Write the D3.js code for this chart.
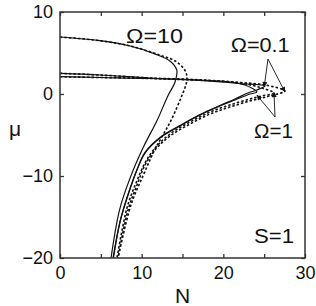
<!DOCTYPE html>
<html>
<head>
<meta charset="utf-8">
<script src="https://cdn.jsdelivr.net/npm/d3@7"></script>
<style>
  body { margin: 0; background: #fff; }
  text { font-family: "Liberation Sans", Arial, sans-serif; fill: #111; }
</style>
</head>
<body>
<div id="chart"></div>
<script>
// curves, [N, mu]
const omega10Solid = [[0, 6.95], [4.9, 6.5], [8.6, 5.85], [11.6, 4.9], [13.5, 4.0], [14.3, 2.9], [14.1, 1.5],
    [13.2, -0.25], [11.9, -3.2], [10.2, -6.5], [8.6, -10.2], [7.3, -14.1], [6.25, -20]];
const omega10Dotted = [[0, 6.95], [4.9, 6.5], [8.6, 5.85], [12.2, 4.75], [14.3, 3.9], [15.4, 2.7], [15.5, 1.5],
    [14.9, -0.25], [13.5, -3.4], [11.6, -6.8], [10.2, -9.9], [8.7, -13.5], [7.1, -20]];
const omega1Solid = [[0, 2.52], [4.9, 2.32], [11.0, 1.95], [17.1, 1.71], [20.8, 1.46], [22.65, 1.1], [24.1, 0.24],
    [23.26, 0], [21.43, -0.73], [19.59, -1.46], [17.14, -2.56], [14.69, -3.9], [12.24, -5.37], [10.41, -7.2],
    [9.43, -9.27], [8.33, -12.32], [7.35, -15.61], [6.49, -20]];
const omega01Solid = [[0, 2.11], [4.9, 2.01], [11.0, 1.89], [17.1, 1.65], [22.0, 1.28], [25.1, 0.98],
    [24.1, 0.49], [23.0, 0.12], [21.43, -0.61], [19.59, -1.4], [17.14, -2.5], [14.69, -3.84], [12.24, -5.3],
    [10.41, -7.13], [9.43, -9.2], [8.33, -12.26], [7.35, -15.55], [6.55, -20]];
const omega01Dotted = [[0, 2.11], [4.9, 2.01], [11.0, 1.89], [17.1, 1.68], [22.0, 1.4], [25.1, 1.1], [27.55, 0.37],
    [25.7, -0.24], [23.26, -0.85], [20.8, -1.59], [18.37, -2.44], [15.92, -3.66], [13.47, -5.12], [11.63, -6.83],
    [10.41, -8.66], [9.43, -11.1], [8.33, -14.15], [7.1, -20]];
const omega1Dotted = [[0, 2.52], [4.9, 2.32], [11.0, 1.95], [17.1, 1.73], [22.0, 1.35], [24.7, 0.73], [26.2, 0.12],
    [24.7, -0.24], [23.26, -0.61], [20.8, -1.34], [18.37, -2.2], [15.92, -3.41], [13.47, -4.88], [11.63, -6.59],
    [10.41, -8.41], [9.31, -10.85], [8.2, -13.9], [6.98, -20]];

const xTicks = [0, 10, 20, 30];
const xMinorTicks = [5, 15, 25];
const yTicks = [-20, -10, 0, 10];

// labels and arrows, in data units
const labels = [
    { text: 'Ω=10', n: 8.08, mu: 6.2, len: 57 },
    { text: 'Ω=0.1', n: 20.9, mu: 5.1, len: 59 },
    { text: 'Ω=1', n: 23.75, mu: -5.37, len: 39 },
    { text: 'S=1', n: 23.75, mu: -18.2, len: 40 }
];
const arrows = [
    { from: [25.47, 4.27], to: [25.0, 0.85] },
    { from: [25.47, 4.27], to: [27.55, 0.24] },
    { from: [26.33, -2.8], to: [24.1, -0.12] },
    { from: [26.33, -2.8], to: [26.2, 0.24] }
];

const width = 316, height = 306;
const margin = { top: 12, right: 11, bottom: 48, left: 60 };

const svg = d3.select('#chart').append('svg')
    .attr('width', width)
    .attr('height', height);

const x = d3.scaleLinear().domain([0, 30]).range([margin.left, width - margin.right]);
const y = d3.scaleLinear().domain([-20, 10]).range([height - margin.bottom, margin.top]);

svg.append('clipPath').attr('id', 'plot-clip')
    .append('rect')
    .attr('x', x(0)).attr('y', y(10))
    .attr('width', x(30) - x(0)).attr('height', y(-20) - y(10));

const line = d3.line()
    .x(d => x(d[0]))
    .y(d => y(d[1]))
    .curve(d3.curveCatmullRom.alpha(0.5));

const curves = svg.append('g').attr('clip-path', 'url(#plot-clip)');

function drawCurve(data, dotted) {
    curves.append('path')
        .datum(data)
        .attr('d', line)
        .attr('fill', 'none')
        .attr('stroke', '#111')
        .attr('stroke-width', dotted ? 1.6 : 1.2)
        .attr('stroke-dasharray', dotted ? '2.5,2' : null);
}

drawCurve(omega10Solid, false);
drawCurve(omega10Dotted, true);
drawCurve(omega1Solid, false);
drawCurve(omega01Solid, false);
drawCurve(omega01Dotted, true);
drawCurve(omega1Dotted, true);

// axes, ticks pointing inward on all four sides
const axisStyle = g => {
    g.select('.domain').remove();
    g.selectAll('line').attr('stroke', '#333').attr('stroke-width', 1.3);
    g.selectAll('text').attr('font-size', 18).attr('fill', '#111')
        .attr('font-family', '"Liberation Sans", Arial, sans-serif');
};

svg.append('g')
    .attr('transform', 'translate(0,' + y(-20) + ')')
    .call(d3.axisBottom(x).tickValues(xTicks.concat(xMinorTicks)).tickSize(-4).tickPadding(8)
        .tickFormat(d => xTicks.includes(d) ? d : ''))
    .call(axisStyle);

svg.append('g')
    .attr('transform', 'translate(0,' + y(10) + ')')
    .call(d3.axisTop(x).tickValues(xTicks.concat(xMinorTicks)).tickSize(-4).tickFormat(''))
    .call(axisStyle);

svg.append('g')
    .attr('transform', 'translate(' + x(0) + ',0)')
    .call(d3.axisLeft(y).tickValues(yTicks).tickSize(-4).tickPadding(7))
    .call(axisStyle);

svg.append('g')
    .attr('transform', 'translate(' + x(30) + ',0)')
    .call(d3.axisRight(y).tickValues(yTicks).tickSize(-4).tickFormat(''))
    .call(axisStyle);

svg.append('rect')
    .attr('x', x(0)).attr('y', y(10))
    .attr('width', x(30) - x(0)).attr('height', y(-20) - y(10))
    .attr('fill', 'none')
    .attr('stroke', '#333')
    .attr('stroke-width', 1.5);

// axis titles
svg.append('text')
    .attr('x', 15).attr('y', 136)
    .attr('text-anchor', 'middle')
    .attr('font-size', 21)
    .text('μ');

svg.append('text')
    .attr('x', (x(0) + x(30)) / 2).attr('y', 303)
    .attr('text-anchor', 'middle')
    .attr('font-size', 21)
    .text('N');

// arrows
svg.append('defs').append('marker')
    .attr('id', 'arrow-head')
    .attr('viewBox', '0 0 10 10')
    .attr('refX', 10).attr('refY', 5)
    .attr('markerUnits', 'userSpaceOnUse')
    .attr('markerWidth', 6).attr('markerHeight', 5)
    .attr('orient', 'auto')
    .append('path')
    .attr('d', 'M0,0 L10,5 L0,10 Z')
    .attr('fill', '#111');

svg.append('g').selectAll('line')
    .data(arrows)
    .enter()
    .append('line')
    .attr('x1', a => x(a.from[0])).attr('y1', a => y(a.from[1]))
    .attr('x2', a => x(a.to[0])).attr('y2', a => y(a.to[1]))
    .attr('stroke', '#111')
    .attr('stroke-width', 0.9)
    .attr('marker-end', 'url(#arrow-head)');

svg.append('g').selectAll('text')
    .data(labels)
    .enter()
    .append('text')
    .attr('x', l => x(l.n))
    .attr('y', l => y(l.mu))
    .attr('font-size', 20)
    .attr('textLength', l => l.len)
    .attr('lengthAdjust', 'spacingAndGlyphs')
    .text(l => l.text);
</script>
</body>
</html>
